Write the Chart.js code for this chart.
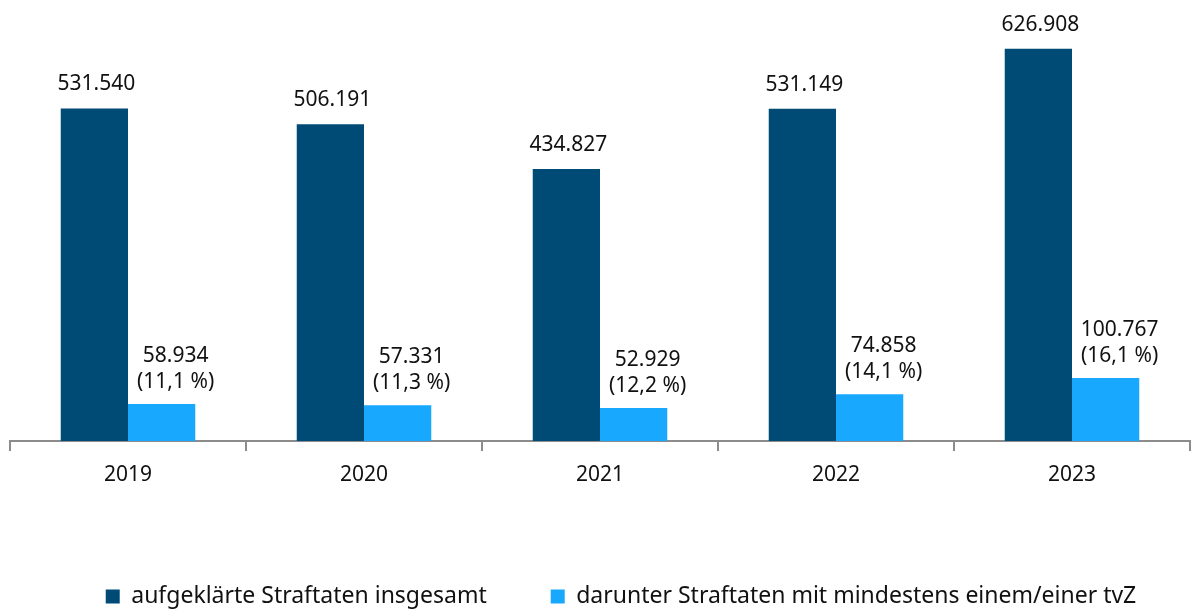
<!DOCTYPE html>
<html lang="de">
<head>
<meta charset="utf-8">
<script src="https://cdn.jsdelivr.net/npm/chart.js@4/dist/chart.umd.min.js"></script>
<style>
  html, body { margin: 0; padding: 0; background: #fff; }
  #wrap { width: 1192px; height: 612px; }
</style>
</head>
<body>
<div id="wrap"><canvas id="barChart"></canvas></div>
<script>
const years = ['2019', '2020', '2021', '2022', '2023']
const solvedTotal = [531540, 506191, 434827, 531149, 626908]
const withSuspect = [58934, 57331, 52929, 74858, 100767]
const suspectShare = [11.1, 11.3, 12.2, 14.1, 16.1]

const fontFamily = '"Noto Sans", "Open Sans", sans-serif'

const fmt = n => n.toLocaleString('de-DE')
const fmtPct = p => '(' + p.toFixed(1).replace('.', ',') + ' %)'

// value labels above each bar
const valueLabels = {
    id: 'valueLabels',
    afterDatasetsDraw(chart) {
        const ctx = chart.ctx
        ctx.save()
        ctx.font = '21px ' + fontFamily
        ctx.fillStyle = '#111'
        ctx.textAlign = 'center'
        ctx.textBaseline = 'alphabetic'
        chart.getDatasetMeta(0).data.forEach((bar, i) => {
            ctx.fillText(fmt(solvedTotal[i]), bar.x + 2, bar.y - 18)
        })
        chart.getDatasetMeta(1).data.forEach((bar, i) => {
            ctx.fillText(fmtPct(suspectShare[i]), bar.x + 14, bar.y - 16)
            ctx.fillText(fmt(withSuspect[i]), bar.x + 14, bar.y - 42)
        })
        ctx.restore()
    }
}

// nudge the legend a bit right and down
const legendShift = {
    id: 'legendShift',
    afterLayout(chart) {
        const lg = chart.legend
        lg.left += 21
        lg.right += 21
        lg.top += 6
        lg.bottom += 6
    }
}

const barData = {
    labels: years,
    datasets: [{
        label: 'aufgeklärte Straftaten insgesamt',
        backgroundColor: '#004b76',
        data: solvedTotal
    }, {
        label: 'darunter Straftaten mit mindestens einem/einer tvZ',
        backgroundColor: '#18a9ff',
        data: withSuspect
    }]
}

const barChart = new Chart(document.getElementById('barChart'), {
    type: 'bar',
    data: barData,
    options: {
        responsive: true,
        maintainAspectRatio: false,
        animation: false,
        datasets: {
            bar: { categoryPercentage: 0.57, barPercentage: 1 }
        },
        layout: { padding: { left: 10, right: 2, top: 3, bottom: 0 } },
        scales: {
            x: {
                grid: {
                    drawOnChartArea: false,
                    tickLength: 10,
                    color: '#8c8c8c',
                    lineWidth: 2
                },
                border: { color: '#8c8c8c', width: 2 },
                ticks: {
                    color: '#111',
                    font: { family: fontFamily, size: 21 },
                    padding: 11
                },
                afterFit(scale) { scale.height = 74 }
            },
            y: {
                display: false,
                min: 0,
                max: 700000
            }
        },
        plugins: {
            legend: {
                position: 'bottom',
                labels: {
                    color: '#111',
                    font: { family: fontFamily, size: 23 },
                    boxWidth: 14,
                    boxHeight: 14,
                    padding: 64
                }
            },
            tooltip: { enabled: false }
        }
    },
    plugins: [valueLabels, legendShift]
})
</script>
</body>
</html>
